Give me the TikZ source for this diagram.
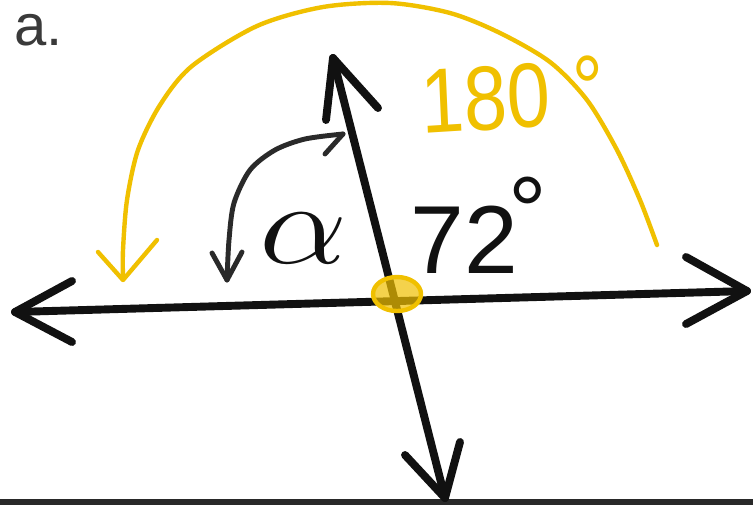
\documentclass[tikz,border=0pt]{standalone}
\usepackage{fontspec}
\setmainfont{Liberation Sans}
\definecolor{penyellow}{HTML}{F0C000}
\definecolor{pen}{HTML}{111111}
\definecolor{pengray}{HTML}{2A2A2A}
\definecolor{labelgray}{HTML}{3A3A3A}
\begin{document}
\begin{tikzpicture}[x=0.02cm,y=-0.02cm,line cap=round,line join=round,
  ink/.style={draw=pen,line width=4.5pt},
  gold/.style={draw=penyellow,line width=2.5pt},
  arcink/.style={draw=pengray,line width=2.8pt}]
\useasboundingbox (0,0) rectangle (753,505);
\fill[white] (0,0) rectangle (753,505);
\fill[pen!90] (0,499) rectangle (753,505);

% main lines
\coordinate (L) at (15,312);
\coordinate (R) at (747,291);
\coordinate (T) at (333,58);
\coordinate (B) at (445,498);
\coordinate (O) at (397,294);
\draw[ink] (L) -- (R);
\draw[ink] (T) -- (B);

% arrowheads of the lines
\coordinate (La) at (72,281);
\coordinate (Lb) at (72,342);
\coordinate (Ra) at (686,257);
\coordinate (Rb) at (686,324);
\coordinate (Ta) at (326,120);
\coordinate (Tb) at (378,108);
\coordinate (Ba) at (405,455);
\coordinate (Bb) at (460,442);
\draw[ink] (La) -- (L) -- (Lb);
\draw[ink] (Ra) -- (R) -- (Rb);
\draw[ink] (Ta) -- (T) -- (Tb);
\draw[ink] (Ba) -- (B) -- (Bb);

% alpha arc
\coordinate (As) at (227,280);
\coordinate (Ae) at (343,134);
\draw[arcink] plot[smooth] coordinates {(227,280) (229,240) (234,203) (250,170) (275,150) (305,139) (343,134)};
\draw[arcink] (212,253) -- (As) -- (242,252);
\draw[arcink] (325,154) -- (Ae);

% yellow 180 arc
\coordinate (Ys) at (123,280);
\coordinate (Ye) at (657,245);
\draw[gold] plot[smooth] coordinates {(123,278) (123,250) (127,200) (138,150) (160,105) (192,66) (257,26) (323,7) (390,3) (450,13) (500,33) (550,62) (587,100) (617,150) (640,200) (657,245)};
\draw[gold] (98,252) -- (Ys) -- (157,240);

% intersection mark
\draw[gold,fill=penyellow,fill opacity=0.7] (O) ellipse [x radius=0.48cm, y radius=0.34cm];

% texts
\node[text=labelgray,font=\fontsize{33}{33}\selectfont,anchor=base west,inner sep=0pt] (lbl) at (14,45) {a.};
\node[text=pen,font=\fontsize{20}{20}\selectfont,xscale=3.85,yscale=3.2,inner sep=0pt] (alpha) at (304,238) {$\alpha$};
\node[text=pen,font=\fontsize{55}{55}\selectfont,anchor=base west,inner sep=0pt] (ang) at (410,273) {72\kern-0.1em\raisebox{0.3em}{°}};
\node[text=penyellow,font=\fontsize{52}{52}\selectfont,anchor=base west,inner sep=0pt,xscale=0.85,rotate=3] (half) at (422,134) {180\kern0.3em\raisebox{0.05em}{°}};
\end{tikzpicture}
\end{document}
